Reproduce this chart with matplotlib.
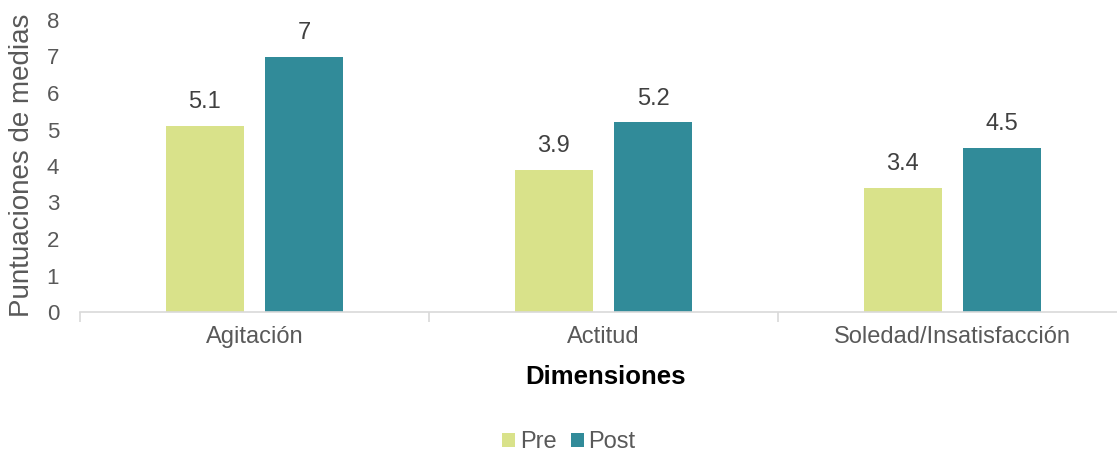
import numpy as np
import matplotlib.pyplot as plt

categorias = ["Agitación", "Actitud", "Soledad/Insatisfacción"]
pre = [5.1, 3.9, 3.4]
post = [7, 5.2, 4.5]
etiquetas_pre = ["5.1", "3.9", "3.4"]
etiquetas_post = ["7", "5.2", "4.5"]

plt.rcParams['font.family'] = ['Liberation Sans', 'DejaVu Sans']
gris = "#595959"

W, H = 1117, 453
fig = plt.figure(figsize=(W / 100, H / 100), dpi=100)
ax = fig.add_axes([80/W, 1 - 312/H, 1 - 80/W, (312 - 20)/H])

x = np.arange(len(categorias))
ancho = 0.2235
desp = 0.142
b1 = ax.bar(x - desp, pre, ancho, color="#D9E28A", label="Pre")
b2 = ax.bar(x + desp, post, ancho, color="#318B99", label="Post")

for barras, textos in ((b1, etiquetas_pre), (b2, etiquetas_post)):
    for b, t in zip(barras, textos):
        ax.annotate(t, (b.get_x() + b.get_width() / 2, b.get_height()),
                    xytext=(0, 9), textcoords="offset points",
                    ha="center", va="bottom", fontsize=17, color="#404040")

ax.set_ylim(0, 8)
ax.set_xlim(-0.5, 2.5 - 10/349)
ax.set_yticks(range(9))
ax.set_xticks(x)
ax.set_xticklabels(categorias)
ax.set_xticks([-0.5, 0.5, 1.5], minor=True)
ax.tick_params(axis="x", which="major", length=0, pad=10, labelsize=17, labelcolor=gris)
ax.tick_params(axis="x", which="minor", length=7, color="#D9D9D9", width=1.2)
ax.tick_params(axis="y", length=0, pad=15, labelsize=16, labelcolor=gris)

for s in ["top", "right", "left"]:
    ax.spines[s].set_visible(False)
ax.spines["bottom"].set_color("#D9D9D9")
ax.spines["bottom"].set_linewidth(1.2)

# títulos de los ejes
fig.text(22/W, 1 - 165/H, "Puntuaciones de medias", rotation=90, ha="center", va="center",
         fontsize=20, color=gris)
fig.text(606/W, 1 - 377/H, "Dimensiones", ha="center", va="center",
         fontsize=18.5, fontweight="bold", color="black")

fig.legend(loc="center", bbox_to_anchor=(569/W, 1 - 442/H), ncol=2, frameon=False,
           fontsize=17, labelcolor=gris, handlelength=0.55, handleheight=0.55,
           handletextpad=0.2, columnspacing=0.6)

fig.savefig("out.png", dpi=100)
